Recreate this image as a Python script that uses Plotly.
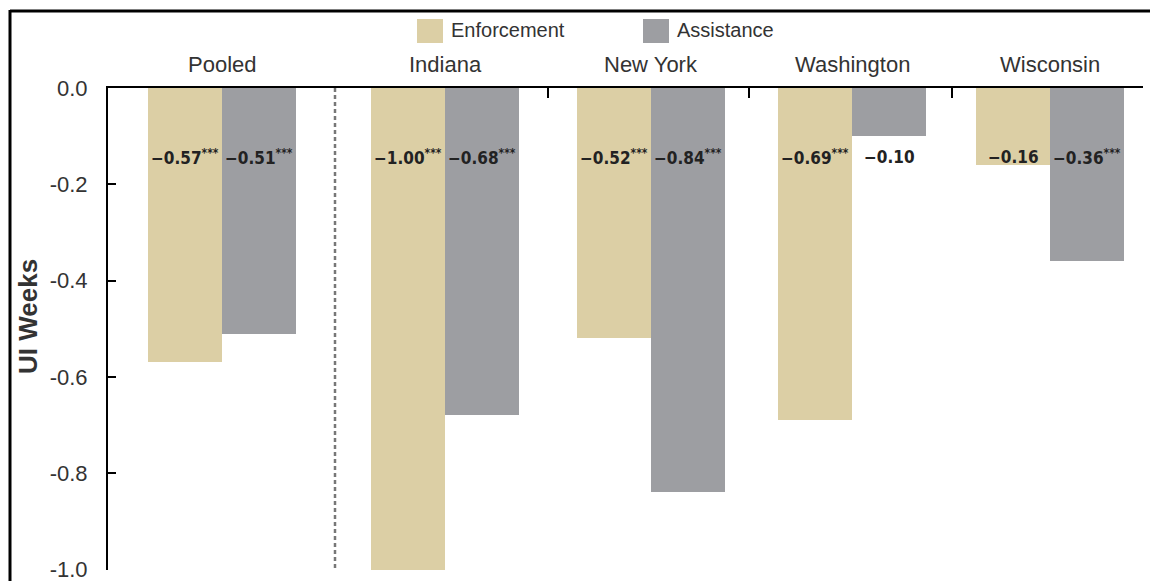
import plotly.graph_objects as go

# Effect of each treatment on UI weeks, by sample
groups = ["Pooled", "Indiana", "New York", "Washington", "Wisconsin"]
enforcement = [-0.57, -1.00, -0.52, -0.69, -0.16]
assistance = [-0.51, -0.68, -0.84, -0.10, -0.36]
enf_stars = ["***", "***", "***", "***", ""]
ast_stars = ["***", "***", "***", "", "***"]
y_ticks = [0.0, -0.2, -0.4, -0.6, -0.8, -1.0]

# Layout geometry (x axis runs in plot-pixel units; plot spans 108..1143 px)
PLOT_L, PLOT_W = 108, 1035
PLOT_BOTTOM, PLOT_H = 570, 482
centers = [114, 337, 543, 744, 942]
separators = [440, 641, 844, 1035]
pooled_divider = 227
bar_w = 74
label_y = -0.143


def px_x(p):
    """page pixel x -> paper x"""
    return (p - PLOT_L) / PLOT_W


def px_y(p):
    """page pixel y -> paper y"""
    return (PLOT_BOTTOM - p) / PLOT_H


ENF_COLOR = "#DCCFA5"
AST_COLOR = "#9D9EA2"
TEXT = "#333333"
LABEL_FONT = "Liberation Sans Narrow, Arial Narrow, DejaVu Sans Condensed, sans-serif"
MAIN_FONT = "Liberation Sans, Arial, sans-serif"

fig = go.Figure()
fig.add_trace(go.Bar(
    x=[c - bar_w / 2 for c in centers], y=enforcement, width=bar_w,
    marker=dict(color=ENF_COLOR, line=dict(width=0)), name="Enforcement",
    showlegend=False))
fig.add_trace(go.Bar(
    x=[c + bar_w / 2 for c in centers], y=assistance, width=bar_w,
    marker=dict(color=AST_COLOR, line=dict(width=0)), name="Assistance",
    showlegend=False))


def fmt(v, stars):
    s = "\u2212" + f"{abs(v):.2f}"
    if stars:
        s += f"<sup>{stars}</sup>"
    return s


annotations = []
for offs, vals, stars in ((-bar_w / 2, enforcement, enf_stars),
                          (bar_w / 2, assistance, ast_stars)):
    for c, v, s in zip(centers, vals, stars):
        annotations.append(dict(x=c + offs, y=label_y, xref="x", yref="y",
                                text="<b>" + fmt(v, s) + "</b>", showarrow=False,
                                xanchor="center", yanchor="middle",
                                font=dict(family=LABEL_FONT, size=17, color="#222")))

# group names above the top axis
for c, g in zip(centers, groups):
    annotations.append(dict(x=c, y=px_y(65), xref="x", yref="paper", text=g,
                            showarrow=False, xanchor="center", yanchor="middle",
                            font=dict(family=MAIN_FONT, size=22, color=TEXT)))

# y axis title
annotations.append(dict(x=px_x(28), y=px_y(317), xref="paper", yref="paper",
                        text="<b>UI Weeks</b>", textangle=-90, showarrow=False,
                        xanchor="center", yanchor="middle",
                        font=dict(family=MAIN_FONT, size=26, color=TEXT)))

# legend entries
legend_items = [("Enforcement", ENF_COLOR, 309), ("Assistance", AST_COLOR, 535)]
shapes = []
for name, col, x0 in legend_items:
    shapes.append(dict(type="rect", xref="x", yref="paper", x0=x0, x1=x0 + 26,
                       y0=px_y(43), y1=px_y(19),
                       fillcolor=col, line=dict(width=0)))
    annotations.append(dict(x=x0 + 32, y=px_y(30), xref="x", yref="paper",
                            text=name, showarrow=False, xanchor="left",
                            yanchor="middle",
                            font=dict(family=MAIN_FONT, size=20, color=TEXT)))

# dashed divider between pooled and state results
shapes.append(dict(type="line", xref="x", yref="y", x0=pooled_divider,
                   x1=pooled_divider, y0=0, y1=-1.0,
                   line=dict(color="#777777", width=2.5, dash="4px,3px")))

# outer frame (top and left edges)
shapes.append(dict(type="line", xref="paper", yref="paper", x0=px_x(10),
                   x1=px_x(1152), y0=px_y(11), y1=px_y(11),
                   line=dict(color="black", width=3)))
shapes.append(dict(type="line", xref="paper", yref="paper", x0=px_x(10),
                   x1=px_x(10), y0=px_y(10), y1=px_y(600),
                   line=dict(color="black", width=3)))

fig.update_layout(
    width=1150, height=581,
    margin=dict(l=PLOT_L, r=1150 - PLOT_L - PLOT_W, t=88, b=581 - PLOT_BOTTOM,
                pad=0, autoexpand=False),
    paper_bgcolor="white", plot_bgcolor="white",
    barmode="overlay", bargap=0,
    showlegend=False,
    annotations=annotations, shapes=shapes,
    xaxis=dict(range=[0, PLOT_W], side="top", showline=True, linecolor="black",
               linewidth=2, ticks="inside", ticklen=10, tickwidth=2,
               tickcolor="black", tickvals=separators, showticklabels=False,
               showgrid=False, zeroline=False, fixedrange=True,
               automargin=False),
    yaxis=dict(range=[-1.001, 0.0], showline=True, linecolor="black",
               linewidth=2, ticks="inside", ticklen=8, tickwidth=2,
               tickcolor="black", tickvals=y_ticks,
               ticktext=[f"{v:.1f}" for v in y_ticks],
               ticklabelstandoff=14, ticklabeloverflow="allow",
               tickfont=dict(family=MAIN_FONT, size=22, color=TEXT),
               showgrid=False, zeroline=False, fixedrange=True,
               automargin=False),
)

fig.write_html("out.html")
